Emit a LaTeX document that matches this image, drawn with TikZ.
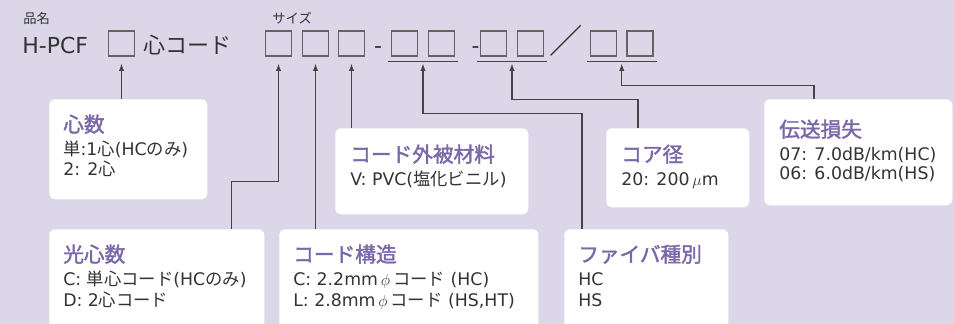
\documentclass[tikz,border=0pt]{standalone}
\usepackage{fontspec}
\setmainfont{DejaVu Sans}
\newfontfamily\jpfont{Noto Sans CJK JP}
\newfontfamily\jpttl{Noto Sans CJK JP}[FakeBold=1.8]
\newcommand\jp[1]{{\jpfont #1}}
\usetikzlibrary{calc, positioning}
\usetikzlibrary{arrows.meta}

\definecolor{bgc}{RGB}{219,215,232}
\definecolor{ttl}{RGB}{122,104,168}
\definecolor{txt}{RGB}{51,51,51}
\definecolor{lnc}{RGB}{68,68,68}
\definecolor{sqc}{RGB}{100,100,100}

\tikzset{
  infobox/.style={fill=white, rounded corners=4.5pt, inner sep=0pt, anchor=north west},
  ttltext/.style={font=\fontsize{15.5}{18}\jpttl, text=ttl, anchor=base west, inner sep=0pt},
  bodytext/.style={font=\fontsize{13}{15}\selectfont, text=txt, anchor=base west, inner sep=0pt},
  toptext/.style={font=\fontsize{16.5}{20}\selectfont, text=txt, anchor=base west, inner sep=0pt},
  smalltext/.style={font=\fontsize{10}{12}\jpfont, text=txt, anchor=base west, inner sep=0pt},
  slot/.style={draw=sqc, line width=0.85pt, minimum width=19.5pt, minimum height=18.75pt, inner sep=0pt},
  conn/.style={draw=lnc, line width=0.8pt, -{Latex[length=5.5pt,width=4pt]}},
  uline/.style={draw=lnc, line width=0.8pt},
}

\begin{document}
\begin{tikzpicture}[x=0.75pt, y=-0.75pt]
\useasboundingbox (0,0) rectangle (954,324);
\fill[bgc] (0,0) rectangle (954,324);
\clip (0,0) rectangle (954,324);

\node[smalltext] (lblname) at (23,24) {品名};
\node[smalltext] (lblsize) at (272,24) {サイズ};
\node[toptext] (model) at (22,54) {H-PCF};
\node[toptext] (cord) at (143,54) {\jp{心コード}};

\node[slot] (sqN) at (121.5,43.5) {};
\node[slot] (sqS1) at (278.5,43.5) {};
\node[slot] (sqS2) at (315.5,43.5) {};
\node[slot] (sqS3) at (351.5,43.5) {};
\node[toptext, anchor=base] (dashA) at (378,54) {-};
\node[slot] (sqC1) at (404.5,43.5) {};
\node[slot] (sqC2) at (441.5,43.5) {};
\node[toptext, anchor=base] (dashB) at (475.5,54) {-};
\node[slot] (sqF1) at (493.5,43.5) {};
\node[slot] (sqF2) at (530.5,43.5) {};
\node[toptext, font=\fontsize{25}{28}\jpfont, anchor=base] (slash) at (566.5,54) {／};
\node[slot] (sqL1) at (603.5,43.5) {};
\node[slot] (sqL2) at (640,43.5) {};

\draw[uline] ([shift={(-3,5)}]sqC1.south west) -- ([shift={(3,5)}]sqC2.south east);
\draw[uline] ([shift={(-3,5)}]sqF1.south west) -- ([shift={(3,5)}]sqF2.south east);
\draw[uline] ([shift={(-3,5)}]sqL1.south west) -- ([shift={(3,5)}]sqL2.south east);

\coordinate (tN) at ($(sqN.south)+(0,7)$);
\coordinate (tS1) at ($(sqS1.south)+(0,7)$);
\coordinate (tS2) at ($(sqS2.south)+(0,7)$);
\coordinate (tS3) at ($(sqS3.south)+(0,7)$);
\coordinate (tC) at ($(sqC1.south)!0.5!(sqC2.south)+(0,7)$);
\coordinate (tF) at ($(sqF1.south)!0.5!(sqF2.south)+(0,7)$);
\coordinate (tL) at ($(sqL1.south)!0.5!(sqL2.south)+(0,7)$);

\node[infobox, minimum width=118.5pt, minimum height=75pt] (hs) at (49,99) {};
\node[infobox, minimum width=161.25pt, minimum height=83.25pt] (kos) at (49,229) {};
\node[infobox, minimum width=194.25pt, minimum height=83.25pt] (kz) at (279,229) {};
\node[infobox, minimum width=144.75pt, minimum height=64.5pt] (gh) at (335,128) {};
\node[infobox, minimum width=123pt, minimum height=83.25pt] (fs) at (564,229) {};
\node[infobox, minimum width=107.25pt, minimum height=59.25pt] (ck) at (606,128) {};
\node[infobox, minimum width=141pt, minimum height=79.5pt] (ds) at (764,99) {};

\draw[conn] (tN |- hs.north) -- (tN);
\draw[conn] ($(kos.north east)+(-33,0)$) |- ($(tS1)+(0,118)$) -- (tS1);
\draw[conn] (tS2 |- kz.north) -- (tS2);
\draw[conn] (tS3 |- gh.north) -- (tS3);
\draw[conn] ($(fs.north west)+(18,0)$) |- ($(tC)+(0,50)$) -- (tC);
\draw[conn] ($(ck.north west)+(32,0)$) |- ($(tF)+(0,36)$) -- (tF);
\draw[conn] ($(ds.north west)+(50,0)$) |- ($(tL)+(0,22)$) -- (tL);

\node[ttltext] (hsT) at ([shift={(14,33)}]hs.north west) {心数};
\node[bodytext] (hsA) at ([shift={(14,57)}]hs.north west) {\jp{単}:1\jp{心}(HC\jp{のみ})};
\node[bodytext] (hsB) at ([shift={(14,77)}]hs.north west) {2: 2\jp{心}};

\node[ttltext] (kosT) at ([shift={(14,33)}]kos.north west) {光心数};
\node[bodytext] (kosA) at ([shift={(14,57)}]kos.north west) {C: \jp{単心コード}(HC\jp{のみ})};
\node[bodytext] (kosB) at ([shift={(14,77)}]kos.north west) {D: 2\jp{心コード}};

\node[ttltext] (kzT) at ([shift={(14,33)}]kz.north west) {コード構造};
\node[bodytext] (kzA) at ([shift={(14,57)}]kz.north west) {C: 2.2mm\,$\phi$\,\jp{コード} (HC)};
\node[bodytext] (kzB) at ([shift={(14,77)}]kz.north west) {L: 2.8mm\,$\phi$\,\jp{コード} (HS,HT)};

\node[ttltext] (ghT) at ([shift={(15,34)}]gh.north west) {コード外被材料};
\node[bodytext] (ghA) at ([shift={(15,58)}]gh.north west) {V: PVC(\jp{塩化ビニル})};

\node[ttltext] (fsT) at ([shift={(14,33)}]fs.north west) {ファイバ種別};
\node[bodytext] (fsA) at ([shift={(14,57)}]fs.north west) {HC};
\node[bodytext] (fsB) at ([shift={(14,77)}]fs.north west) {HS};

\node[ttltext] (ckT) at ([shift={(15,34)}]ck.north west) {コア径};
\node[bodytext] (ckA) at ([shift={(15,58)}]ck.north west) {20: 200\,$\mu$m};

\node[ttltext] (dsT) at ([shift={(15,38)}]ds.north west) {伝送損失};
\node[bodytext] (dsA) at ([shift={(15,62)}]ds.north west) {07: 7.0dB/km(HC)};
\node[bodytext] (dsB) at ([shift={(15,81)}]ds.north west) {06: 6.0dB/km(HS)};
\end{tikzpicture}
\end{document}
